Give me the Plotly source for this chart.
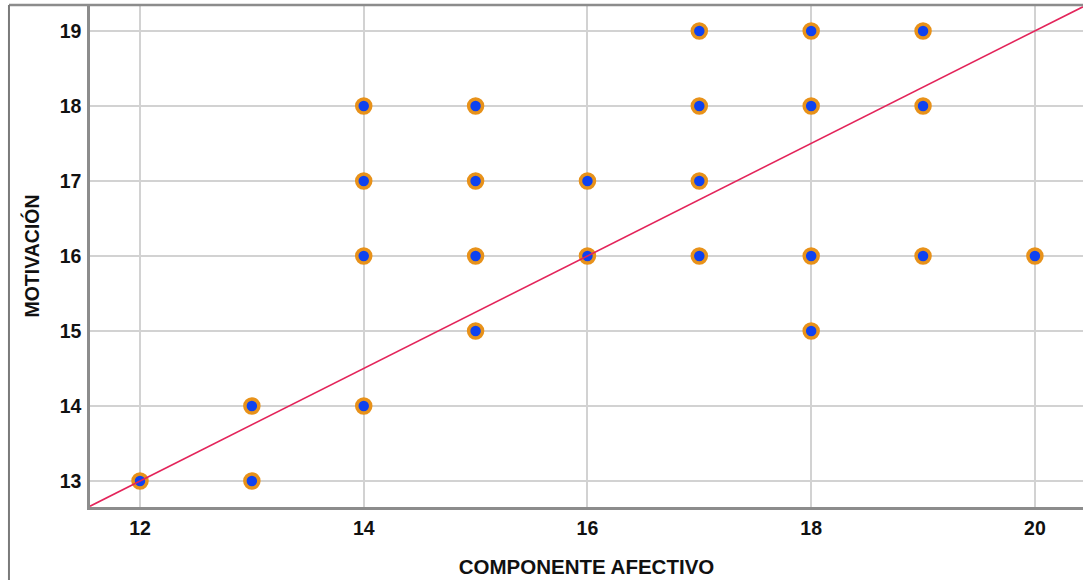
import plotly.graph_objects as go

comp_afectivo = [12, 13, 13, 14, 14, 14, 14, 15, 15, 15, 15, 16, 16,
                 17, 17, 17, 17, 18, 18, 18, 18, 19, 19, 19, 20]
motivacion = [13, 14, 13, 18, 17, 16, 14, 18, 17, 16, 15, 17, 16,
              19, 18, 17, 16, 19, 18, 16, 15, 19, 18, 16, 16]
fit_slope = 0.75
fit_intercept = 4.0
x_range = [11.553, 20.43]
y_range = [12.654, 19.346]
x_ticks = [12, 14, 16, 18, 20]
y_ticks = [13, 14, 15, 16, 17, 18, 19]

fit_x = x_range
fit_y = [fit_slope * v + fit_intercept for v in fit_x]

FAM = "Liberation Sans, Arial, sans-serif"

fig = go.Figure()
fig.add_trace(go.Scatter(
    x=comp_afectivo, y=motivacion, mode="markers",
    marker=dict(size=14, color="#0E42F0",
                line=dict(color="#E8921A", width=3.5)),
    showlegend=False, cliponaxis=False))
fig.add_trace(go.Scatter(
    x=fit_x, y=fit_y, mode="lines",
    line=dict(color="#E3245A", width=1.6), hoverinfo="skip", showlegend=False))

fig.update_layout(
    width=1083, height=580,
    margin=dict(l=90, r=0, t=5, b=73),
    paper_bgcolor="white", plot_bgcolor="white",
    font=dict(family=FAM, size=19, color="#111111"),
    xaxis=dict(range=x_range, tickvals=x_ticks,
               ticktext=["<b>%d</b>" % t for t in x_ticks],
               showgrid=True, gridcolor="#D2D2D2", gridwidth=1.5,
               showline=True, linecolor="#8C8C8C", linewidth=2.5,
               zeroline=False, ticks="", ticklen=0, ticklabelstandoff=2,
               tickfont=dict(family=FAM, size=19.5, color="#111"),
               title=dict(text="<b>COMPONENTE AFECTIVO</b>", standoff=22,
                          font=dict(family=FAM, size=20.5, color="#111"))),
    yaxis=dict(range=y_range, tickvals=y_ticks,
               ticktext=["<b>%d</b>" % t for t in y_ticks],
               showgrid=True, gridcolor="#D2D2D2", gridwidth=1.5,
               showline=True, linecolor="#8C8C8C", linewidth=2.5,
               zeroline=False, ticks="", ticklen=0, ticklabelstandoff=2,
               tickfont=dict(family=FAM, size=19.5, color="#111"),
               title=dict(text="<b>MOTIVACIÓN</b>", standoff=15,
                          font=dict(family=FAM, size=19.5, color="#111"))),
)

# outer frame lines (top and left border of the chart window)
fig.add_shape(type="line", xref="paper", yref="paper",
              x0=-0.0816, x1=1.0, y0=1.0, y1=1.0,
              line=dict(color="#8C8C8C", width=2.5))
fig.add_shape(type="line", xref="paper", yref="paper",
              x0=-0.0816, x1=-0.0816, y0=1.0, y1=-0.15,
              line=dict(color="#7A7A7A", width=2))

fig.write_html("out.html", config={"displayModeBar": False},
               post_script="document.body.style.margin='0';document.body.style.overflow='hidden';")
